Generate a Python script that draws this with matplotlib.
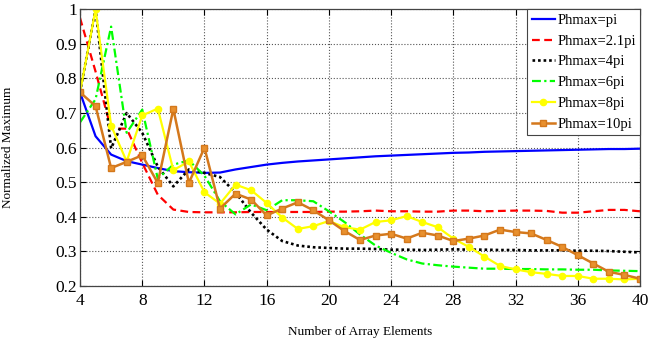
import numpy as np
import matplotlib
matplotlib.use('Agg')
import matplotlib.pyplot as plt

plt.rcParams['font.family'] = ['Liberation Serif', 'DejaVu Serif']
plt.rcParams['mathtext.default'] = 'regular'

# number of array elements
n_elem = list(range(4, 41))

# normalized maximum for each phase limit
ph_pi = [0.760, 0.633, 0.580, 0.561, 0.551, 0.541, 0.532, 0.529, 0.527, 0.528,
         0.537, 0.544, 0.551, 0.556, 0.560, 0.563, 0.566, 0.569, 0.572, 0.575,
         0.577, 0.579, 0.581, 0.583, 0.585, 0.586, 0.588, 0.589, 0.590, 0.591,
         0.592, 0.593, 0.594, 0.595, 0.596, 0.596, 0.597]
ph_2p1pi = [0.975, 0.820, 0.655, 0.655, 0.556, 0.464, 0.421, 0.414, 0.413, 0.413,
            0.413, 0.414, 0.414, 0.414, 0.414, 0.414, 0.415, 0.415, 0.416, 0.418,
            0.416, 0.416, 0.415, 0.415, 0.418, 0.418, 0.416, 0.417, 0.418, 0.418,
            0.417, 0.412, 0.412, 0.416, 0.420, 0.420, 0.416]
ph_4pi = [0.760, 1.000, 0.598, 0.700, 0.643, 0.545, 0.488, 0.537, 0.527, 0.515,
          0.470, 0.412, 0.363, 0.330, 0.317, 0.312, 0.310, 0.308, 0.308, 0.307,
          0.305, 0.305, 0.304, 0.305, 0.306, 0.305, 0.305, 0.304, 0.304, 0.303,
          0.303, 0.303, 0.302, 0.302, 0.301, 0.299, 0.297]
ph_6pi = [0.673, 0.740, 0.950, 0.643, 0.710, 0.510, 0.551, 0.563, 0.519, 0.445,
          0.407, 0.436, 0.419, 0.448, 0.448, 0.445, 0.416, 0.385, 0.349, 0.317,
          0.296, 0.277, 0.265, 0.260, 0.256, 0.253, 0.250, 0.250, 0.249, 0.249,
          0.248, 0.248, 0.247, 0.247, 0.245, 0.244, 0.243]
ph_8pi = [0.760, 1.000, 0.664, 0.560, 0.693, 0.713, 0.535, 0.560, 0.471, 0.438,
          0.493, 0.477, 0.440, 0.398, 0.365, 0.373, 0.388, 0.370, 0.363, 0.385,
          0.390, 0.402, 0.385, 0.370, 0.337, 0.313, 0.285, 0.258, 0.248, 0.240,
          0.235, 0.229, 0.229, 0.221, 0.221, 0.219, 0.221]
ph_10pi = [0.760, 0.720, 0.541, 0.559, 0.578, 0.498, 0.712, 0.498, 0.600, 0.424,
           0.467, 0.450, 0.404, 0.424, 0.442, 0.419, 0.390, 0.359, 0.333, 0.346,
           0.351, 0.337, 0.354, 0.346, 0.330, 0.337, 0.346, 0.363, 0.356, 0.352,
           0.333, 0.313, 0.289, 0.265, 0.241, 0.232, 0.221]

labels = ['Phmax=pi', 'Phmax=2.1pi', 'Phmax=4pi', 'Phmax=6pi', 'Phmax=8pi', 'Phmax=10pi']
xticks = [4, 8, 12, 16, 20, 24, 28, 32, 36, 40]
yticks = [0.2, 0.3, 0.4, 0.5, 0.6, 0.7, 0.8, 0.9, 1.0]
yticklabels = ['0.2', '0.3', '0.4', '0.5', '0.6', '0.7', '0.8', '0.9', '1']

fig = plt.figure(figsize=(6.51, 3.41), dpi=100)
ax = fig.add_axes([0.1229, 0.1613, 0.8602, 0.8114])

lw = 1.6
ax.plot(n_elem, ph_pi, color='#0000ff', lw=lw, ls='-', label=labels[0])
ax.plot(n_elem, ph_2p1pi, color='#ff0000', lw=lw, ls=(0, (3.5, 2)), label=labels[1])
ax.plot(n_elem, ph_4pi, color='#000000', lw=lw+0.3, ls=(0, (1, 1.1)), label=labels[2])
ax.plot(n_elem, ph_6pi, color='#00ff00', lw=lw, ls=(0, (4, 1.5, 1, 1.5)), label=labels[3])
ax.plot(n_elem, ph_8pi, color='#ffff00', lw=lw, ls='-', marker='o', ms=4.5,
        mfc='#ffff00', mec='#ffff00', label=labels[4])
ax.plot(n_elem, ph_10pi, color='#d4781c', lw=lw+0.2, ls='-', marker='s', ms=5,
        mfc='#e8902e', mec='#d4781c', label=labels[5])

ax.set_xlim(4, 40)
ax.set_ylim(0.2, 1.0)
ax.set_xticks(xticks)
ax.set_yticks(yticks)
ax.set_yticklabels(yticklabels)
ax.tick_params(axis='both', direction='in', top=True, right=True, length=4,
               width=0.8, labelsize=12.5, pad=2)
ax.tick_params(axis='x', pad=5)
ax.grid(True, ls=':', color='#555555', lw=0.8)
for sp in ax.spines.values():
    sp.set_color('#444444')
    sp.set_linewidth(0.9)

ax.set_xlabel('Number of Array Elements', fontsize=9.5, labelpad=12)
ax.set_ylabel('Normalized Maximum', fontsize=9.5, labelpad=30)

leg = ax.legend(loc='upper right', fontsize=10.5, borderaxespad=0, handlelength=1.6,
                handletextpad=0.15, labelspacing=0.52, borderpad=0.3, fancybox=False,
                framealpha=1)
leg.get_frame().set_edgecolor('#444444')
leg.get_frame().set_linewidth(0.8)

fig.savefig('out.png', dpi=100)
